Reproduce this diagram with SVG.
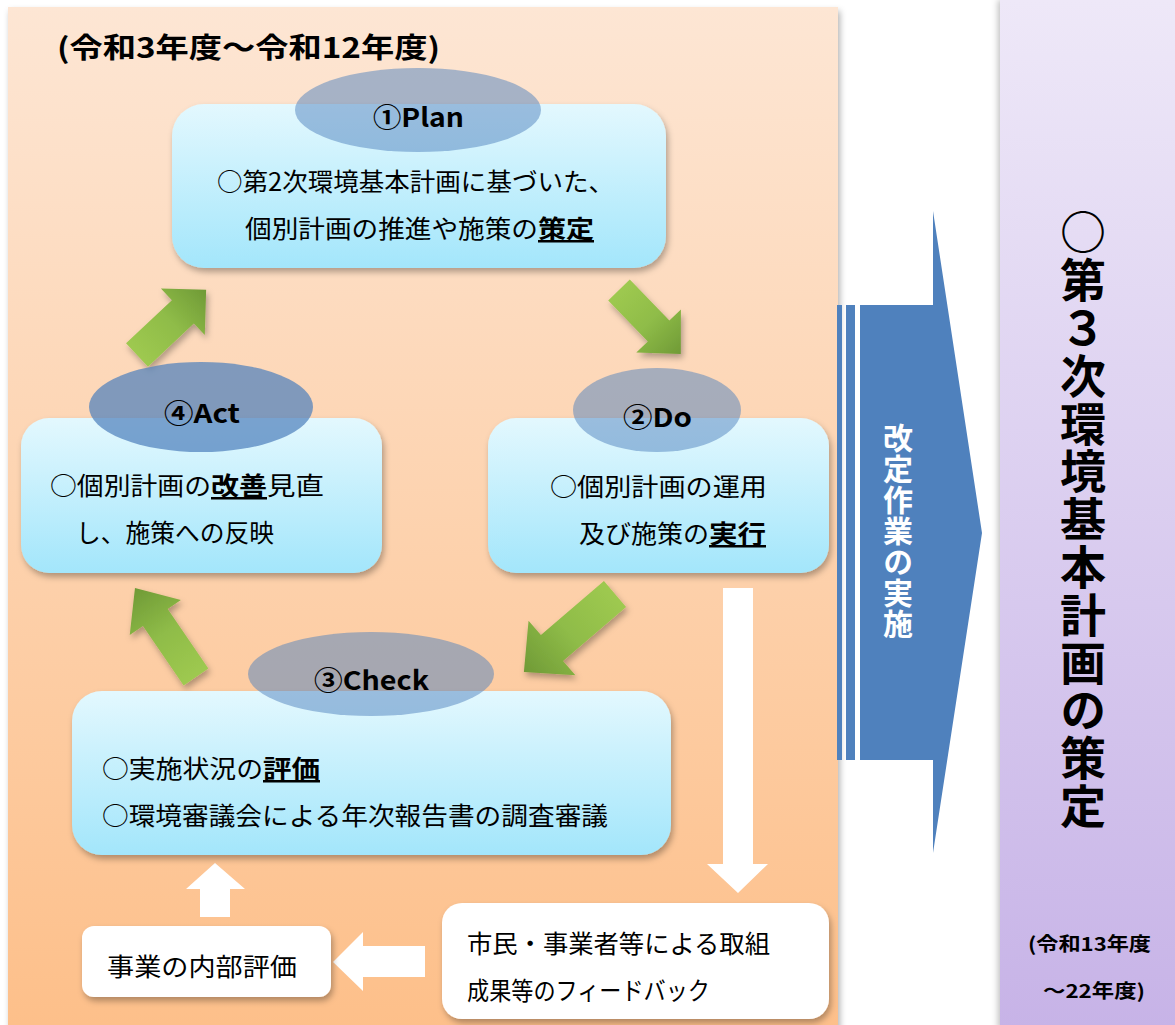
<svg xmlns="http://www.w3.org/2000/svg" width="1175" height="1025" viewBox="0 0 1175 1025">
<defs>
<linearGradient id="gPanel" x1="0" y1="0" x2="0" y2="1"><stop offset="0" stop-color="#fde6d4"/><stop offset="1" stop-color="#fdbf89"/></linearGradient>
<linearGradient id="gRight" x1="0" y1="0" x2="0" y2="1"><stop offset="0" stop-color="#eee8f8"/><stop offset="1" stop-color="#c7b3e7"/></linearGradient>
<linearGradient id="gBox" x1="0" y1="0" x2="0" y2="1"><stop offset="0" stop-color="#e3f8fe"/><stop offset="1" stop-color="#a3e6fb"/></linearGradient>
<linearGradient id="gGreen" x1="0" y1="0" x2="1" y2="0"><stop offset="0" stop-color="#9ec950"/><stop offset="0.5" stop-color="#8fbc48"/><stop offset="1" stop-color="#6f9a36"/></linearGradient>
<filter id="sh" x="-10%" y="-10%" width="125%" height="130%"><feDropShadow dx="2" dy="4" stdDeviation="3" flood-color="#000" flood-opacity="0.3"/></filter>
<filter id="shp" x="-5%" y="-5%" width="110%" height="110%"><feDropShadow dx="-2" dy="0" stdDeviation="3" flood-color="#000" flood-opacity="0.25"/></filter>
</defs>
<style>
.jp{font-family:"Noto Sans CJK JP","Noto Sans CJK SC",sans-serif;fill:#000}
.body{font-size:25px}
.lbl{font-size:26px;font-weight:bold}
.b{font-weight:bold}
.u{text-decoration:underline}
.box{fill:url(#gBox);filter:url(#sh)}
.wbox{fill:#fff;filter:url(#sh)}
.ell{fill:#4f81bd}
.garr{fill:url(#gGreen)}
.gsh{filter:url(#sh)}
.warr{fill:#fff}
</style>

<g id="panel-left">
<rect x="8" y="7" width="830" height="1030" fill="url(#gPanel)" filter="url(#sh)"/>
<text class="jp b" x="57" y="58" font-size="28" textLength="383" lengthAdjust="spacingAndGlyphs">(令和3年度～令和12年度)</text>
</g>

<g id="panel-right">
<rect x="1000" y="0" width="180" height="1030" fill="url(#gRight)" filter="url(#shp)"/>
<text class="jp b" x="1083" y="209" font-size="46" letter-spacing="1.8" style="writing-mode:vertical-rl;text-orientation:upright">○第３次環境基本計画の策定</text>
<text class="jp b" x="1028" y="951" font-size="19" textLength="123" lengthAdjust="spacingAndGlyphs">(令和13年度</text>
<text class="jp b" x="1043" y="998" font-size="19" textLength="102" lengthAdjust="spacingAndGlyphs">～22年度)</text>
</g>

<g id="connectors">
<g class="gsh"><path class="garr" transform="translate(137,355) rotate(-43.3)" d="M0,-16 L63,-16 L63,-32 L95,0 L63,32 L63,16 L0,16 Z"/></g>
<g class="gsh"><path class="garr" transform="translate(619,290) rotate(46)" d="M0,-15 L57,-15 L57,-31 L89,0 L57,31 L57,15 L0,15 Z"/></g>
<g class="gsh"><path class="garr" transform="translate(615,594) rotate(139.4)" d="M0,-17 L83,-17 L83,-36 L120,0 L83,36 L83,17 L0,17 Z"/></g>
<g class="gsh"><path class="garr" transform="translate(196,677) rotate(-124.4)" d="M0,-15 L72,-15 L72,-31 L108,0 L72,31 L72,15 L0,15 Z"/></g>
<path class="warr" d="M723,588 H753 V864 H768 L738,893 L707,864 H723 Z"/>
<path class="warr" d="M425,946 H363 V932 L333,962 L363,991 V977 H425 Z"/>
<path class="warr" d="M200,917 V889 H186 L215,863 L245,889 H230 V917 Z"/>
<g id="kaitei-arrow">
<rect x="837" y="305" width="5" height="455" fill="#4f81bd"/>
<rect x="846" y="305" width="9" height="455" fill="#4f81bd"/>
<path d="M860,305 H933 V211 L982,533 L933,853 V760 H860 Z" fill="#4f81bd"/>
<text class="jp b" x="898" y="423" font-size="30" letter-spacing="1" style="fill:#fff;writing-mode:vertical-rl;text-orientation:upright">改定作業の実施</text>
</g>
</g>

<g id="plan">
<rect class="box" x="172" y="104" width="494" height="164" rx="32"/>
<ellipse class="ell" cx="418" cy="110" rx="123" ry="42" opacity="0.5"/>
<text class="jp lbl" x="373" y="127" textLength="91" lengthAdjust="spacingAndGlyphs">①Plan</text>
<text class="jp body" x="217" y="191" textLength="397" lengthAdjust="spacingAndGlyphs">○第2次環境基本計画に基づいた、</text>
<text class="jp body" x="245" y="238" textLength="293" lengthAdjust="spacingAndGlyphs">個別計画の推進や施策の</text>
<text class="jp body b u" x="538" y="238" textLength="56" lengthAdjust="spacingAndGlyphs">策定</text>
</g>

<g id="do">
<rect class="box" x="488" y="418" width="341" height="155" rx="28"/>
<ellipse class="ell" cx="657" cy="410" rx="84" ry="42" opacity="0.5"/>
<text class="jp lbl" x="623" y="427" textLength="69" lengthAdjust="spacingAndGlyphs">②Do</text>
<text class="jp body" x="550" y="496" textLength="217" lengthAdjust="spacingAndGlyphs">○個別計画の運用</text>
<text class="jp body" x="579" y="543" textLength="130" lengthAdjust="spacingAndGlyphs">及び施策の</text>
<text class="jp body b u" x="709" y="543" textLength="57" lengthAdjust="spacingAndGlyphs">実行</text>
</g>

<g id="act">
<rect class="box" x="21" y="418" width="361" height="155" rx="28"/>
<ellipse class="ell" cx="201" cy="407" rx="112" ry="45" opacity="0.72"/>
<text class="jp lbl" x="164" y="423" textLength="76" lengthAdjust="spacingAndGlyphs">④Act</text>
<text class="jp body" x="50" y="495" textLength="161" lengthAdjust="spacingAndGlyphs">○個別計画の</text>
<text class="jp body b u" x="211" y="495" textLength="56" lengthAdjust="spacingAndGlyphs">改善</text>
<text class="jp body" x="267" y="495" textLength="57" lengthAdjust="spacingAndGlyphs">見直</text>
<text class="jp body" x="76" y="542" textLength="198" lengthAdjust="spacingAndGlyphs">し、施策への反映</text>
</g>

<g id="check">
<rect class="box" x="72" y="691" width="599" height="164" rx="30"/>
<ellipse class="ell" cx="371" cy="674" rx="123" ry="42" opacity="0.5"/>
<text class="jp lbl" x="314" y="690" textLength="115" lengthAdjust="spacingAndGlyphs">③Check</text>
<text class="jp body" x="102" y="778" textLength="161" lengthAdjust="spacingAndGlyphs">○実施状況の</text>
<text class="jp body b u" x="263" y="778" textLength="57" lengthAdjust="spacingAndGlyphs">評価</text>
<text class="jp body" x="102" y="825" textLength="506" lengthAdjust="spacingAndGlyphs">○環境審議会による年次報告書の調査審議</text>
</g>

<g id="internal-eval">
<rect class="wbox" x="82" y="926" width="249" height="71" rx="12"/>
<text class="jp body" x="107" y="976" textLength="190" lengthAdjust="spacingAndGlyphs">事業の内部評価</text>
</g>

<g id="feedback">
<rect class="wbox" x="442" y="903" width="387" height="116" rx="20"/>
<text class="jp body" x="467" y="953" textLength="303" lengthAdjust="spacingAndGlyphs">市民・事業者等による取組</text>
<text class="jp body" x="467" y="1000" textLength="243" lengthAdjust="spacingAndGlyphs">成果等のフィードバック</text>
</g>
</svg>
